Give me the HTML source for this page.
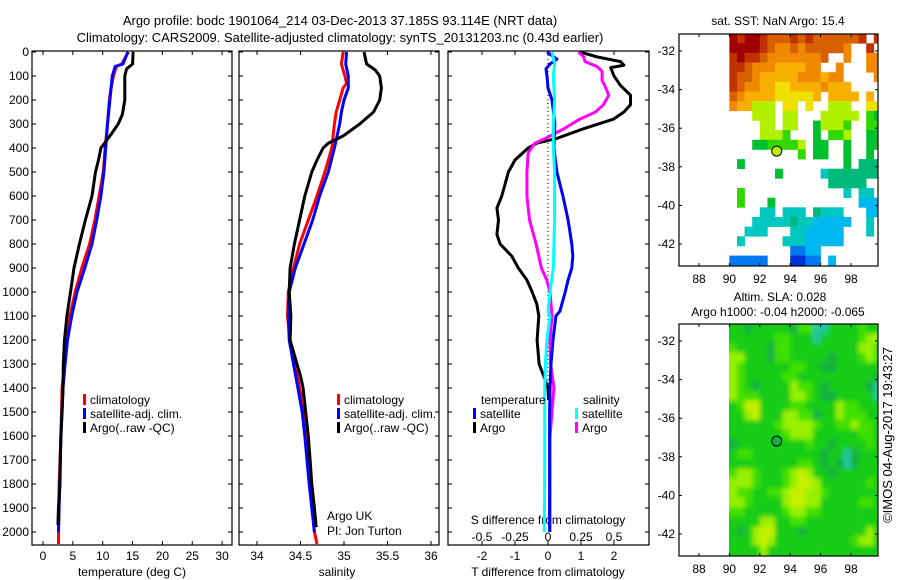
<!DOCTYPE html>
<html><head><meta charset="utf-8"><style>
html,body{margin:0;padding:0;background:#fff;}
svg{display:block;font-family:"Liberation Sans",sans-serif;}
</style></head><body>
<svg id="chart" width="900" height="580" viewBox="0 0 900 580" xmlns="http://www.w3.org/2000/svg">
<defs>
<filter id="soft" x="-5%" y="-5%" width="110%" height="110%"><feGaussianBlur stdDeviation="2.5"/></filter>
<clipPath id="slaClip"><rect x="729" y="324" width="149" height="232"/></clipPath>
</defs>
<rect x="0" y="0" width="900" height="580" fill="#fff"/>
<text x="340" y="25" font-size="13" text-anchor="middle">Argo profile: bodc 1901064_214 03-Dec-2013 37.185S 93.114E (NRT data)</text>
<text x="340" y="42" font-size="13" text-anchor="middle">Climatology: CARS2009. Satellite-adjusted climatology: synTS_20131203.nc (0.43d earlier)</text>
<text x="778" y="25" font-size="12" text-anchor="middle">sat. SST: NaN Argo: 15.4</text>
<text x="780" y="301" font-size="12" text-anchor="middle">Altim. SLA: 0.028</text>
<text x="778" y="316" font-size="12" text-anchor="middle">Argo h1000: -0.04 h2000: -0.065</text>
<text x="0" y="0" font-size="13" text-anchor="middle" transform="translate(892,435) rotate(-90)">©IMOS 04-Aug-2017 19:43:27</text>
<g id="layer"></g>
</svg>
<script>
// ---------- profile data ----------
const depthArgoT = [0,50,70,100,150,200,260,300,350,400,450,500,600,700,800,900,1000,1100,1200,1300,1400,1500,1600,1700,1800,1900,1970];
const tempArgo = [15.1,15.0,14.0,13.7,13.7,13.7,13.3,12.6,11.2,9.7,9.3,8.8,8.2,7.1,6.1,5.2,4.6,4.0,3.6,3.4,3.35,3.2,3.0,2.9,2.85,2.6,2.5];
const depthClimT = [0,50,60,100,150,200,300,400,500,600,700,800,900,1000,1100,1200,1300,1400,1600,1800,2000,2050];
const tempClim = [14.3,13.2,12.3,11.8,11.4,11.1,10.8,10.4,10.1,9.4,8.7,7.8,6.5,5.4,4.5,3.9,3.6,3.2,3.0,2.7,2.6,2.6];
const depthSatT = [0,50,60,100,150,200,300,400,500,600,700,800,900,1000,1100,1200,1300,1400,1600,1800,2000];
const tempSat = [14.2,13.4,12.1,11.6,11.4,11.2,10.8,10.5,10.2,9.7,9.0,8.2,7.0,5.7,4.8,4.1,3.7,3.35,3.0,2.8,2.6];

const depthArgoS = [0,50,75,100,150,200,250,300,350,380,400,450,500,600,700,800,900,1000,1100,1200,1300,1350,1400,1500,1600,1700,1800,1900,1980];
const salArgo = [35.23,35.26,35.36,35.41,35.43,35.41,35.34,35.18,34.99,34.82,34.76,34.69,34.63,34.55,34.49,34.43,34.38,34.37,34.39,34.38,34.46,34.50,34.53,34.56,34.59,34.61,34.63,34.66,34.68];
const depthClimS = [0,50,100,130,150,200,250,300,400,500,600,700,800,900,1000,1100,1200,1300,1400,1500,1600,1800,2000,2050];
const salClim = [34.99,34.97,35.01,35.03,34.99,34.95,34.91,34.89,34.86,34.78,34.69,34.59,34.49,34.42,34.36,34.35,34.38,34.44,34.49,34.54,34.56,34.61,34.66,34.69];
const depthSatS = [0,50,100,130,150,200,250,300,400,500,600,700,800,900,1000,1100,1200,1300,1400,1500,1600,1800,2000];
const salSat = [35.03,35.02,35.05,35.05,35.05,35.0,34.97,34.95,34.89,34.82,34.72,34.64,34.54,34.44,34.37,34.36,34.37,34.42,34.47,34.52,34.55,34.6,34.66];

const depthArgoDT = [0,20,40,55,65,100,140,180,220,250,280,320,360,380,400,450,500,600,650,700,760,800,850,900,950,1000,1050,1100,1200,1300,1350,1400,1450];
const diffTArgo = [0.97,1.48,2.2,2.3,1.9,2.0,2.2,2.5,2.5,2.3,1.98,1.07,0.27,-0.34,-0.6,-1.0,-1.2,-1.4,-1.55,-1.5,-1.55,-1.45,-1.1,-0.9,-0.64,-0.48,-0.34,-0.28,-0.33,-0.27,-0.13,0.0,0.02];
const depthArgoDS = [0,20,40,60,80,120,140,180,220,250,280,320,360,380,420,500,600,700,800,900,950,1000,1100,1200,1300,1400,1500,1600,1800,2000];
const diffSArgo = [0.23,0.27,0.28,0.37,0.41,0.41,0.43,0.46,0.42,0.36,0.24,0.12,-0.02,-0.1,-0.15,-0.16,-0.16,-0.14,-0.09,-0.05,-0.01,0.015,0.03,0.015,0.02,0.045,0.03,0.015,0.015,0.015];
const depthSatDT = [0,30,50,70,100,150,200,300,400,500,600,700,800,850,900,950,1000,1080,1100,1200,1300,1400,1500,1700,2000];
const diffTSat = [-0.03,0.27,0.06,-0.06,-0.03,0,0.12,0.21,0.18,0.27,0.45,0.61,0.72,0.75,0.72,0.61,0.52,0.36,0.24,0.15,0.09,0.06,0.05,0.05,0.05];
const depthSatDS = [0,50,100,200,300,400,500,700,900,1000,1080,1100,1200,1300,1400,1700,2000];
const diffSSat = [0.03,0.05,0.04,0.05,0.04,0.04,0.05,0.05,0.04,0.015,0,0.015,-0.008,-0.02,-0.025,-0.025,-0.028];

const depthTicks = [0,100,200,300,400,500,600,700,800,900,1000,1100,1200,1300,1400,1500,1600,1700,1800,1900,2000];
const tempTicks = [0,5,10,15,20,25,30];
const salTicks = [34,34.5,35,35.5,36];
const salTickLabels = ["34","34.5","35","35.5","36"];
const dTTicks = [-2,-1,0,1,2];
const dSTicks = [-0.5,-0.25,0,0.25,0.5];
const dSTickLabels = ["-0.5","-0.25","0","0.25","0.5"];

// ---------- map data ----------
const lonTicks = [88,90,92,94,96,98];
const latTicks = [-32,-34,-36,-38,-40,-42];
const floatLon = 93.114, floatLat = -37.185;
const sstRows = [
"DCDDCBBBCBCBBBBBBC.C",
"DDDDCBAABABBBBBA..C.",
"CDCCBAAAAAAAB..A..AA",
"CCBAAA9999AA..A...AA",
"CBBA99999AAA9AA....A",
"CBAA99889999A999....",
"BA9999888889.9999.9.",
"A99777.88.8..777..88",
"...777.77...77777.65",
"....77.77..57776..66",
"....7776...5.667..55",
"...5566667.55..5..55",
".........6.55..5..5.",
".5.............5.444",
"......5.....34444444",
".............44444..",
".6.............3.33.",
".6...5...........222",
"....33.333.4333...22",
"...3333343322222..3.",
"..333...3322222...3.",
".3.....33322222.....",
"........1122........",
"11111...0011.2......"];
const slaRows = [
"22122222133cc2222322",
"22222233222c22222344",
"32222133222222222443",
"44222133222221222343",
"43222222332211222222",
"43222223322222222221",
"4321222243321222221c",
"4333222244321122222c",
"23552222332222433222",
"22452224433122433322",
"22222234444322334332",
"22222223444222222332",
"12222222223221222232",
"233222222222122c1222",
"222222222332121c1222",
"34432223454221222222",
"44432223455422222232",
"43322334554432222222",
"44322224554422222332",
"33222223443322222222",
"22224422332222222222",
"21245522212222222242",
"22245422222222223442",
"22224222222222222222"];

const NS = "http://www.w3.org/2000/svg";
const layer = document.getElementById("layer");
function mk(tag, attrs, parent) {
  const e = document.createElementNS(NS, tag);
  for (const k in attrs) e.setAttribute(k, attrs[k]);
  (parent || layer).appendChild(e);
  return e;
}
const yDepth = d => 52 + 0.24 * d;
const xTemp = t => 43 + 5.97 * t;
const xSal = s => 257 + 87 * (s - 34);
const xDT = v => 548 + 33 * v;
const xDS = v => 548 + 132 * v;
const mapX = lon => 699 + (lon - 88) * 15.2;
const map1Y = lat => 51 + (-32 - lat) * 19.3;
const map2Y = lat => 341 + (-32 - lat) * 19.3;

function profile(depths, vals, xf, color, name) {
  let d = "";
  for (let i = 0; i < vals.length; i++) d += (i ? "L" : "M") + xf(vals[i]).toFixed(1) + "," + yDepth(depths[i]).toFixed(1);
  const p = mk("path", {d: d, fill: "none", stroke: color, "stroke-width": 3, "stroke-linejoin": "round"});
  
  
}
function frame(x0, x1, y0, y1, name) {
  const r = mk("rect", {x: x0, y: y0, width: x1 - x0, height: y1 - y0, fill: "none", stroke: "#000", "stroke-width": 1.2});
  
  
}
function text(x, y, s, anchor, name, size) {
  const t = mk("text", {x: x, y: y, "font-size": size || 12, "text-anchor": anchor || "middle"});
  t.textContent = s;
  
  
  return t;
}
function tick(x1, y1, x2, y2) { mk("line", {x1: x1, y1: y1, x2: x2, y2: y2, stroke: "#000", "stroke-width": 1}); }

const yTop = 51, yBot = 545;
const panels = [[32, 232], [239, 439], [448, 649]];
panels.forEach(p => depthTicks.forEach(d => { tick(p[0], yDepth(d), p[0] + 4, yDepth(d)); tick(p[1], yDepth(d), p[1] - 4, yDepth(d)); }));
depthTicks.forEach(d => text(29, yDepth(d) + 4, String(d), "end", "depth-tick-label"));
tempTicks.forEach(t => { tick(xTemp(t), yBot, xTemp(t), yBot - 4); tick(xTemp(t), yTop, xTemp(t), yTop + 4); text(xTemp(t), 560, String(t), "middle", "temp-tick-label"); });
text(132, 576, "temperature (deg C)", "middle", "x-axis-title-temperature");
salTicks.forEach((s, i) => { tick(xSal(s), yBot, xSal(s), yBot - 4); tick(xSal(s), yTop, xSal(s), yTop + 4); text(xSal(s), 560, salTickLabels[i], "middle", "salinity-tick-label"); });
text(337, 576, "salinity", "middle", "x-axis-title-salinity");
dTTicks.forEach(v => { tick(xDT(v), yBot, xDT(v), yBot - 4); tick(xDT(v), yTop, xDT(v), yTop + 4); text(xDT(v), 560, String(v), "middle", "tdiff-tick-label"); });
dSTicks.forEach((v, i) => { tick(xDS(v), yBot, xDS(v), yBot - 4); text(xDS(v), 541, dSTickLabels[i], "middle", "sdiff-tick-label"); });
text(548, 524, "S difference from climatology", "middle", "sdiff-axis-title");
text(548, 576, "T difference from climatology", "middle", "x-axis-title-tdiff");
mk("line", {x1: xDT(0), y1: yTop, x2: xDT(0), y2: yDepth(1400), stroke: "#000", "stroke-width": 1, "stroke-dasharray": "1,3"});

profile(depthClimT, tempClim, xTemp, "#ff0000", "temp-climatology-line");
profile(depthSatT, tempSat, xTemp, "#0000ff", "temp-satellite-line");
profile(depthArgoT, tempArgo, xTemp, "#000000", "temp-argo-line");
profile(depthClimS, salClim, xSal, "#ff0000", "sal-climatology-line");
profile(depthSatS, salSat, xSal, "#0000ff", "sal-satellite-line");
profile(depthArgoS, salArgo, xSal, "#000000", "sal-argo-line");
profile(depthArgoDT, diffTArgo, xDT, "#000000", "tdiff-argo-line");
profile(depthArgoDS, diffSArgo, xDS, "#ff00ff", "sdiff-argo-line");
profile(depthSatDT, diffTSat, xDT, "#0000ff", "tdiff-satellite-line");
profile(depthSatDS, diffSSat, xDS, "#00ffff", "sdiff-satellite-line");

panels.forEach((p, i) => frame(p[0], p[1], yTop, yBot, "profile-panel-frame-" + (i + 1)));

function legend(x, y, color, label, name) {
  const r = mk("rect", {x: x, y: y - 10, width: 3, height: 11, fill: color});
  
  
  text(x + 7, y, label, "start", name, 12);
}
legend(83, 404, "#ff0000", "climatology", "legend-climatology");
legend(83, 418, "#0000ff", "satellite-adj. clim.", "legend-satellite-adj");
legend(83, 432, "#000000", "Argo(..raw -QC)", "legend-argo");
legend(337, 404, "#ff0000", "climatology", "legend2-climatology");
legend(337, 418, "#0000ff", "satellite-adj. clim.", "legend2-satellite-adj");
legend(337, 432, "#000000", "Argo(..raw -QC)", "legend2-argo");
text(481, 404, "temperature", "start", "legend-temperature-heading");
text(583, 404, "salinity", "start", "legend-salinity-heading");
legend(473, 418, "#0000ff", "satellite", "legend-t-satellite");
legend(473, 432, "#000000", "Argo", "legend-t-argo");
legend(575, 418, "#00ffff", "satellite", "legend-s-satellite");
legend(575, 432, "#ff00ff", "Argo", "legend-s-argo");
text(327, 520, "Argo UK", "start", "data-centre-label");
text(327, 535, "PI: Jon Turton", "start", "pi-label");

const sstColors = {"0":"#0030d8","1":"#0078f0","2":"#00b8f0","3":"#00c8c0","4":"#00b878","5":"#00c030","6":"#30d800","7":"#b0f000","8":"#f0e000","9":"#f8b000","A":"#f08800","B":"#d86000","C":"#c03000","D":"#a00000"};
const slaColors = {"c":"#20c8a0","1":"#18b040","2":"#14cc14","3":"#40e000","4":"#98f000","5":"#c8f000"};
const mx0 = 679, mx1 = 878;
function drawMap(rows, colors, yf, y0, y1, name, blur, markerFill) {
  const outer = mk("g", {});
  if (blur) outer.setAttribute("clip-path", "url(#slaClip)");
  const g = mk("g", {}, outer);
  if (blur) g.setAttribute("filter", "url(#soft)");
  
  
  const pad = blur ? 6 : 0;
  rows.forEach((row, j) => {
    for (let i = 0; i < row.length; i++) {
      const c = colors[row[i]];
      if (!c) continue;
      const lon = 90 + 0.5 * i, lat = -31.1 - 0.5 * j;
      let x = mapX(lon), y = yf(lat);
      let x2 = Math.min(mapX(lon + 0.5), mx1), yb = Math.min(yf(lat - 0.5), y1);
      if (i === 0) x -= pad;
      if (i === row.length - 1) x2 += pad;
      if (j === 0) y -= pad;
      if (j === rows.length - 1) yb += pad;
      const r = mk("rect", {x: x.toFixed(1), y: y.toFixed(1), width: (x2 - x + 0.3).toFixed(1), height: (yb - y + 0.3).toFixed(1), fill: c}, g);
      
      
    }
  });
  latTicks.forEach(l => { tick(mx0, yf(l), mx0 + 3, yf(l)); tick(mx1, yf(l), mx1 - 3, yf(l)); text(mx0 - 4, yf(l) + 4, String(l), "end", "map-lat-label"); });
  lonTicks.forEach(l => { tick(mapX(l), y1, mapX(l), y1 - 3); tick(mapX(l), y0, mapX(l), y0 + 3); text(mapX(l), y1 + 17, String(l), "middle", "map-lon-label"); });
  const m = mk("circle", {cx: mapX(floatLon), cy: yf(floatLat), r: 5, fill: markerFill, stroke: "#000", "stroke-width": 1});
  
  
  frame(mx0, mx1, y0, y1, name + "-frame");
}
drawMap(sstRows, sstColors, map1Y, 34, 266, "sst-map", false, "#b8f000");
drawMap(slaRows, slaColors, map2Y, 324, 556, "sla-map", true, "#10b040");
</script>
</body></html>
